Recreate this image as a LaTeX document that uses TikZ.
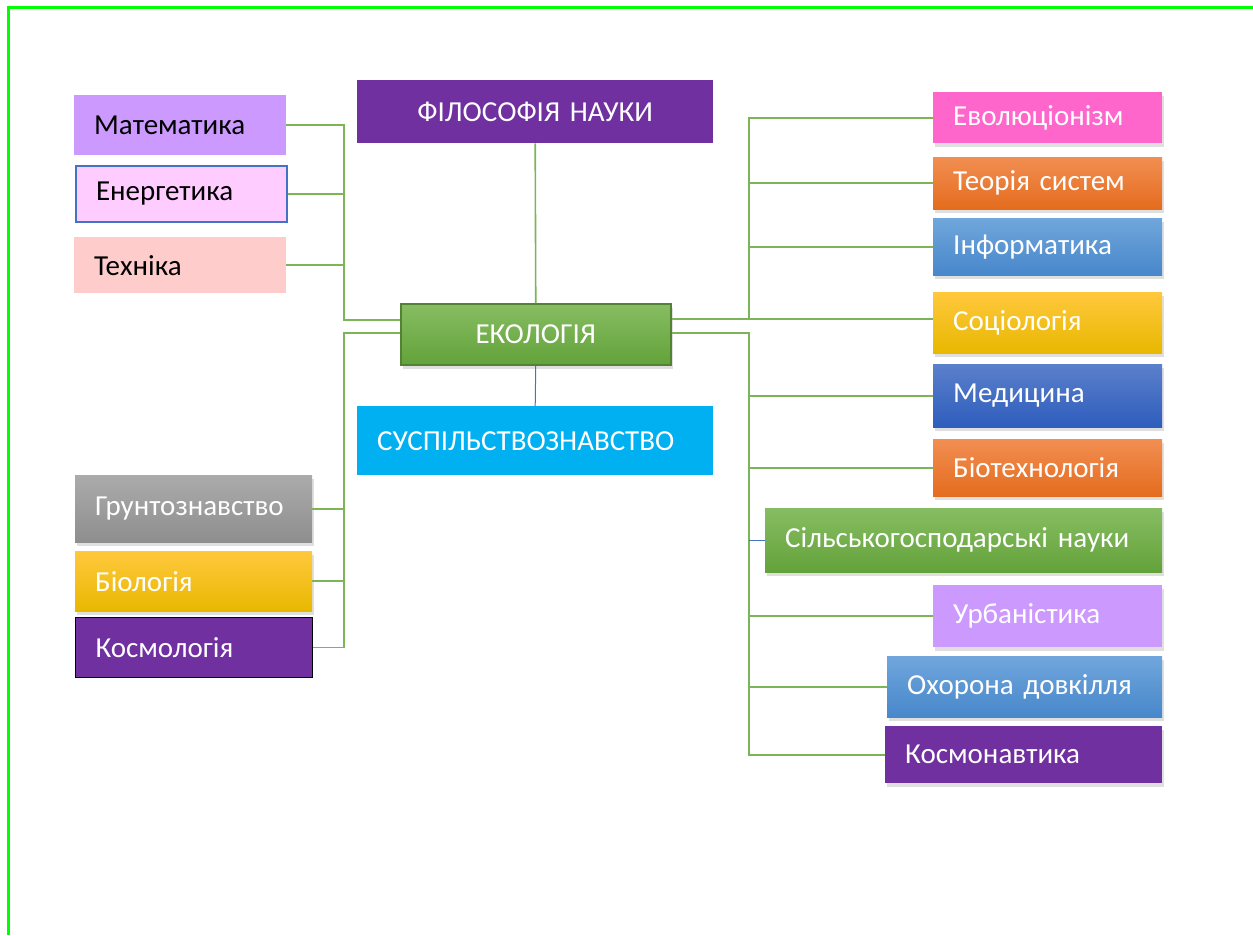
\documentclass[tikz,border=0pt]{standalone}
\usepackage{fontspec}
\setmainfont{Carlito}
\usetikzlibrary{shadows}

\definecolor{purp}{RGB}{112,48,160}
\definecolor{lilac}{RGB}{204,153,255}
\definecolor{pinkish}{RGB}{255,204,255}
\definecolor{rose}{RGB}{255,204,204}
\definecolor{skyblue}{RGB}{0,176,240}
\definecolor{magent}{RGB}{255,102,204}
\definecolor{edgeblue}{RGB}{68,114,196}
\definecolor{linkgreen}{RGB}{124,180,88}
\definecolor{framegreen}{RGB}{0,255,0}

\tikzstyle{box}=[rectangle, anchor=north west, inner xsep=20pt, inner ysep=0pt, align=left, text=white, font=\fontsize{29}{34}\selectfont]
\tikzstyle{shad}=[drop shadow={opacity=0.25, shadow xshift=2pt, shadow yshift=-4pt}]
\tikzstyle{greenbox}=[shade, top color={rgb,255:red,135;green,189;blue,98}, bottom color={rgb,255:red,99;green,162;blue,58}]
\tikzstyle{orangebox}=[shade, top color={rgb,255:red,242;green,142;blue,82}, bottom color={rgb,255:red,228;green,108;blue,30}]
\tikzstyle{bluebox}=[shade, top color={rgb,255:red,112;green,166;blue,220}, bottom color={rgb,255:red,71;green,135;blue,203}]
\tikzstyle{goldbox}=[shade, top color={rgb,255:red,255;green,200;blue,61}, bottom color={rgb,255:red,232;green,184;blue,0}]
\tikzstyle{navybox}=[shade, top color={rgb,255:red,91;green,128;blue,203}, bottom color={rgb,255:red,46;green,93;blue,189}]
\tikzstyle{greybox}=[shade, top color={rgb,255:red,171;green,171;blue,171}, bottom color={rgb,255:red,142;green,142;blue,142}]
\tikzstyle{link}=[draw=linkgreen, line width=1.6pt]

\begin{document}
\begin{tikzpicture}[x=1pt, y=-1pt]
\useasboundingbox (0,0) rectangle (1253,935);
\draw[framegreen, line width=3pt] (8,935) -- (8,7) -- (1253,7);

\node[box, fill=lilac, text=black, text width=172pt, minimum height=60pt] (mat) at (74,95) {Математика};
\node[box, fill=pinkish, text=black, draw=edgeblue, line width=2pt, text width=171pt, minimum height=56pt] (energ) at (75,165) {Енергетика};
\node[box, fill=rose, text=black, text width=172pt, minimum height=56pt] (tekh) at (74,237) {Техніка};

\node[box, fill=purp, align=center, text width=316pt, minimum height=63pt] (filos) at (357,80) {ФІЛОСОФІЯ НАУКИ};
\node[box, greenbox, shad, draw={rgb,255:red,84;green,130;blue,53}, line width=1.5pt, align=center, text width=230pt, minimum height=61pt] (eco) at (400,303) {ЕКОЛОГІЯ};
\node[box, fill=skyblue, text width=316pt, minimum height=69pt] (susp) at (357,406) {СУСПІЛЬСТВОЗНАВСТВО};

\node[box, greybox, shad, text width=197pt, minimum height=67pt] (grunt) at (75,475) {Грунтознавство};
\node[box, goldbox, shad, text width=197pt, minimum height=60pt] (bio) at (75,551) {Біологія};
\node[box, fill=purp, draw=black, line width=1pt, text width=197pt, minimum height=60pt] (kosm) at (75,617) {Космологія};

\node[box, fill=magent, shad, text width=189pt, minimum height=51pt] (evol) at (933,92) {Еволюціонізм};
\node[box, orangebox, shad, text width=189pt, minimum height=52pt] (teor) at (933,157) {Теорія систем};
\node[box, bluebox, shad, text width=189pt, minimum height=57pt] (inform) at (933,218) {Інформатика};
\node[box, goldbox, shad, text width=189pt, minimum height=61pt] (sotsio) at (933,292) {Соціологія};
\node[box, navybox, shad, text width=189pt, minimum height=63pt] (med) at (933,364) {Медицина};
\node[box, orangebox, shad, text width=189pt, minimum height=57pt] (biotekh) at (933,439) {Біотехнологія};
\node[box, greenbox, shad, text width=357pt, minimum height=64pt] (silsk) at (765,508) {Сільськогосподарські науки};
\node[box, fill=lilac, shad, text width=189pt, minimum height=62pt] (urban) at (933,585) {Урбаністика};
\node[box, bluebox, shad, text width=235pt, minimum height=61pt] (okhor) at (887,656) {Охорона довкілля};
\node[box, fill=purp, shad, text width=237pt, minimum height=57pt] (kosmon) at (885,726) {Космонавтика};

\coordinate (jl) at (344,320);
\coordinate (jl2) at (344,333);
\coordinate (jr) at (749,319);
\coordinate (jr2) at (749,333);

\begin{scope}[every path/.style={link}]
       \draw (mat.east) -| (jl) -- (jl -| eco.west);
       \draw (energ.east) -- (energ.east -| jl);
       \draw (tekh.east) -- (tekh.east -| jl);
       \draw (eco.west |- jl2) -- (jl2) |- (kosm.east);
       \draw (grunt.east) -- (grunt.east -| jl2);
       \draw (bio.east) -- (bio.east -| jl2);
       \draw (filos.south) -- (eco.north);
       \draw (eco.east |- jr) -- (jr) |- (evol.west);
       \draw (jr) -- (jr -| sotsio.west);
       \draw (teor.west) -- (teor.west -| jr);
       \draw (inform.west) -- (inform.west -| jr);
       \draw (eco.east |- jr2) -- (jr2) |- (kosmon.west);
       \draw (med.west) -- (med.west -| jr2);
       \draw (biotekh.west) -- (biotekh.west -| jr2);
       \draw (urban.west) -- (urban.west -| jr2);
       \draw (okhor.west) -- (okhor.west -| jr2);
\end{scope}
\draw[edgeblue, line width=1pt] (eco.south) -- (susp.north);
\draw[edgeblue, line width=1pt] (silsk.west) -- (silsk.west -| jr2);
\end{tikzpicture}
\end{document}
